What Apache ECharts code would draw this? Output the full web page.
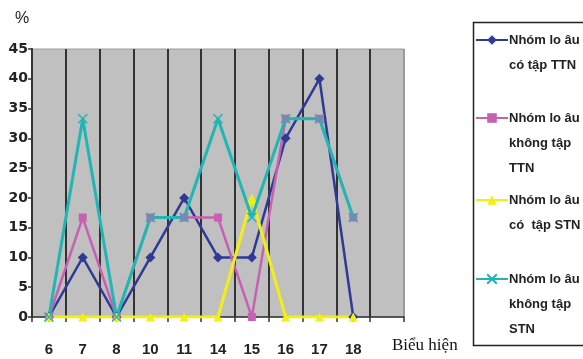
<!DOCTYPE html>
<html>
<head>
<meta charset="utf-8">
<script src="https://cdn.jsdelivr.net/npm/echarts@6/dist/echarts.min.js"></script>
<style>
  html, body { margin: 0; padding: 0; background: #fff; }
  #chart { width: 583px; height: 359px; }
</style>
</head>
<body>
<div id="chart"></div>
<script>
// Symptom codes along the horizontal axis (last band left empty)
const categories = ['6', '7', '8', '10', '11', '14', '15', '16', '17', '18', ''];
const yTicks = { min: 0, max: 45, interval: 5 };

// Share (%) of each group showing each symptom
const coTapTTN = [0, 10, 0, 10, 20, 10, 10, 30, 40, 0];
const khongTapTTN = [0, 16.7, 0, 16.7, 16.7, 16.7, 0, 33.3, 33.3, 16.7];
const coTapSTN = [0, 0, 0, 0, 0, 0, 20, 0, 0, 0];
const khongTapSTN = [0, 33.3, 0, 16.7, 16.7, 33.3, 16.7, 33.3, 33.3, 16.7];

const seriesNames = [
  'Nhóm lo âu\ncó tập TTN',
  'Nhóm lo âu\nkhông tập\nTTN',
  'Nhóm lo âu\ncó  tập STN',
  'Nhóm lo âu\nkhông tập\nSTN'
];

const SANS = "'Liberation Sans', Arial, sans-serif";
const LH = 25;

// One legend block per series so the icon sits on the first text line
function legendBlock(name, top) {
  const lines = name.split('\n').length;
  return {
    left: 475,
    top: top,
    padding: 0,
    orient: 'vertical',
    itemWidth: 32,
    itemHeight: 12,
    itemGap: 0,
    data: [name],
    formatter: n => '\n'.repeat(lines - 1) + n,
    textStyle: {
      fontFamily: SANS, fontSize: 13, fontWeight: 'bold', color: '#222',
      lineHeight: LH, padding: [0, 0, 0, -4]
    }
  };
}

// Vertical band separators: dark inside, light at the right edge
const bandLineColors = categories.map(() => '#333').concat(['#9a9a9a']);

const chart = echarts.init(document.getElementById('chart'), null, { renderer: 'canvas' });

const option = {
  animation: false,
  backgroundColor: '#fff',
  grid: {
    left: 32, top: 49, width: 372, height: 268,
    containLabel: false, outerBoundsMode: 'none',
    show: true, backgroundColor: '#c0c0c0', borderColor: '#9a9a9a', borderWidth: 1
  },
  graphic: [{
    type: 'rect', left: 471, top: 20, z: -1,
    shape: { width: 140, height: 323 },
    style: { fill: 'none', stroke: '#222', lineWidth: 1.5 }
  }],
  legend: [
    legendBlock(seriesNames[0], 40 - LH * 1.5),
    legendBlock(seriesNames[1], 118 - LH * 2.5),
    legendBlock(seriesNames[2], 200 - LH * 1.5),
    legendBlock(seriesNames[3], 279 - LH * 2.5)
  ],
  xAxis: {
    type: 'category',
    data: categories,
    boundaryGap: true,
    name: 'Biểu hiện',
    nameLocation: 'end',
    nameGap: -12,
    nameTextStyle: {
      fontFamily: "'Liberation Serif', 'DejaVu Serif', serif",
      fontSize: 17, color: '#111', verticalAlign: 'top', lineHeight: 58
    },
    axisLine: { lineStyle: { color: '#333', width: 1.5 } },
    axisTick: { show: true, length: 5, inside: false, lineStyle: { color: '#333', width: 1.5 } },
    axisLabel: { fontFamily: SANS, fontSize: 15, fontWeight: 'bold', color: '#222', margin: 25 },
    splitLine: { show: true, lineStyle: { color: bandLineColors, width: 2 } }
  },
  yAxis: {
    type: 'value',
    min: yTicks.min, max: yTicks.max, interval: yTicks.interval,
    name: '%',
    nameLocation: 'end',
    nameGap: 22,
    nameTextStyle: { fontFamily: SANS, fontSize: 16, color: '#222', padding: [0, 20, 0, 0] },
    axisLine: { show: true, lineStyle: { color: '#333', width: 2 } },
    axisTick: { show: true, length: 4, lineStyle: { color: '#333', width: 1.5 } },
    axisLabel: { fontFamily: "'DejaVu Sans', sans-serif", fontSize: 14, fontWeight: 'bold', color: '#222', margin: 4 },
    splitLine: { show: false }
  },
  series: [
    {
      name: seriesNames[0], type: 'line', data: coTapTTN,
      symbol: 'diamond', symbolSize: 10,
      color: '#2e3a94',
      lineStyle: { width: 2.5, color: '#2e3a94' },
      itemStyle: { color: '#2e3a94' }
    },
    {
      name: seriesNames[1], type: 'line', data: khongTapTTN,
      symbol: 'rect', symbolSize: 8,
      color: '#c760b2',
      lineStyle: { width: 2.5, color: '#c760b2' },
      itemStyle: { color: '#c760b2' }
    },
    {
      name: seriesNames[2], type: 'line', data: coTapSTN,
      symbol: 'triangle', symbolSize: 9,
      color: '#f2ef12',
      lineStyle: { width: 3, color: '#f2ef12' },
      itemStyle: { color: '#f2ef12' }
    },
    {
      name: seriesNames[3], type: 'line', data: khongTapSTN,
      symbol: 'path://M0,0L10,10M10,0L0,10', symbolSize: 9,
      color: '#1fb6b3',
      lineStyle: { width: 3, color: '#1fb6b3' },
      itemStyle: { color: '#1fb6b3', borderColor: '#1fb6b3', borderWidth: 1.5 }
    }
  ]
};

chart.setOption(option);
</script>
</body>
</html>
